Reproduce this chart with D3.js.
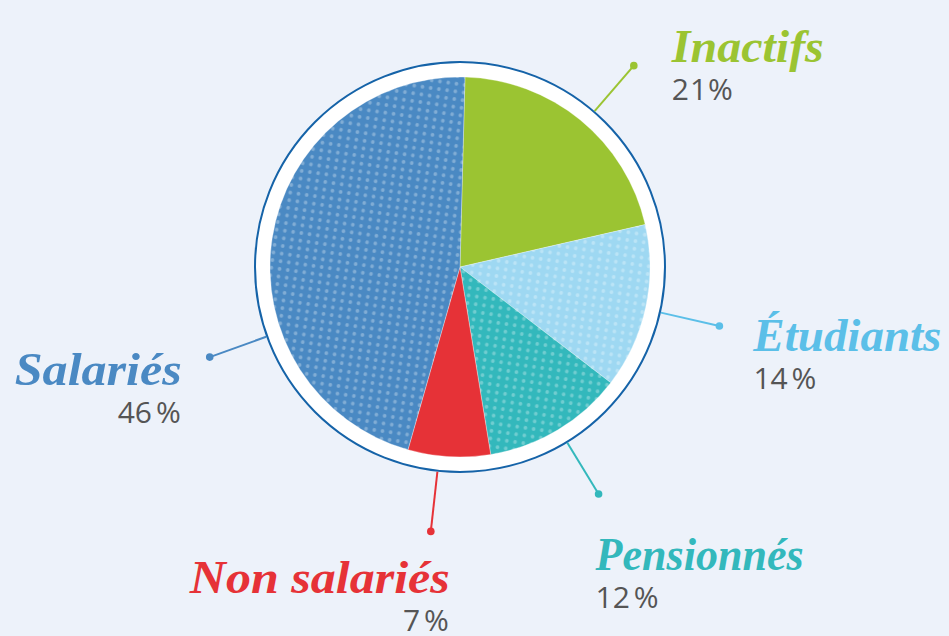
<!DOCTYPE html>
<html>
<head>
<meta charset="utf-8">
<script src="https://cdn.jsdelivr.net/npm/d3@7"></script>
<style>
  body { margin: 0; background: #edf2fa; }
  svg { display: block; }
</style>
</head>
<body>
<div id="pie"></div>
<script>
// data
var categories = ["Inactifs", "Étudiants", "Pensionnés", "Non salariés", "Salariés"];
var values = [21, 14, 12, 7, 46];
var valueLabels = ["21%", "14\u202F%", "12\u202F%", "7\u202F%", "46\u202F%"];

// styling
var colors = ["#9bc432", "#9ed8f2", "#33b8bc", "#e63237", "#4a89c3"];
var lineColors = ["#9bc432", "#5bbfe8", "#33b8bc", "#e63237", "#4a89c3"];
var dotted = [false, true, true, false, true];
var labelWidths = [152, 188, 208, 260, 167];

// leader angle shift (deg) from the slice middle, and label offset from the leader dot
var leaderShift = [1.5, 0.5, -0.5, 3, -28.5];
var labelOffset = [[38, -4, "start"], [34, 25, "start"], [-3, 76, "start"], [19, 62, "end"], [-28, 28, "end"]];

var width = 949, height = 636;
var cx = 460, cy = 267;
var radius = 190, ringRadius = 205, dotRadius = 266;

var svg = d3.select("#pie")
  .append("svg")
  .attr("width", width)
  .attr("height", height);

// dotted fill patterns
var defs = svg.append("defs");
colors.forEach(function(c, i) {
  if (!dotted[i]) return;
  var p = defs.append("pattern")
    .attr("id", "dots" + i)
    .attr("patternUnits", "userSpaceOnUse")
    .attr("patternTransform", "rotate(8)")
    .attr("width", 8.3)
    .attr("height", 7.7);
  p.append("rect").attr("width", 8.3).attr("height", 7.7).attr("fill", c);
  p.append("circle").attr("cx", 4.15).attr("cy", 3.85).attr("r", 1.9)
    .attr("fill", "#ffffff").attr("fill-opacity", 0.3);
});

var g = svg.append("g")
  .attr("transform", "translate(" + cx + "," + cy + ")");

// white ring with blue outline
g.append("circle")
  .attr("r", ringRadius)
  .attr("fill", "#ffffff")
  .attr("stroke", "#1563a8")
  .attr("stroke-width", 2);

var offset = 1.5 * Math.PI / 180;
var pie = d3.pie()
  .sort(null)
  .startAngle(offset)
  .endAngle(2 * Math.PI + offset);
var arcs = pie(values);

var arc = d3.arc().innerRadius(0).outerRadius(radius);

g.selectAll("path.slice")
  .data(arcs)
  .enter()
  .append("path")
  .attr("class", "slice")
  .attr("d", arc)
  .attr("fill", function(d, i) { return dotted[i] ? "url(#dots" + i + ")" : colors[i]; })
  .attr("stroke", "#ffffff")
  .attr("stroke-width", 0.6)
  .attr("stroke-opacity", 0.5);

// leader lines and labels
function leaderAngle(d, i) {
  return (d.startAngle + d.endAngle) / 2 + leaderShift[i] * Math.PI / 180;
}
function polar(a, r) {
  return [Math.sin(a) * r, -Math.cos(a) * r];
}

arcs.forEach(function(d, i) {
  var a = leaderAngle(d, i);
  var p0 = polar(a, ringRadius + 1);
  var p1 = polar(a, dotRadius);
  g.append("line")
    .attr("x1", p0[0]).attr("y1", p0[1])
    .attr("x2", p1[0]).attr("y2", p1[1])
    .attr("stroke", lineColors[i])
    .attr("stroke-width", 2);
  g.append("circle")
    .attr("cx", p1[0]).attr("cy", p1[1])
    .attr("r", 3.8)
    .attr("fill", lineColors[i]);

  var lx = p1[0] + labelOffset[i][0];
  var ly = p1[1] + labelOffset[i][1];
  g.append("text")
    .attr("x", lx).attr("y", ly)
    .attr("text-anchor", labelOffset[i][2])
    .attr("font-family", "'Liberation Serif', serif")
    .attr("font-style", "italic")
    .attr("font-weight", "bold")
    .attr("font-size", 46)
    .attr("textLength", labelWidths[i])
    .attr("lengthAdjust", "spacingAndGlyphs")
    .attr("fill", lineColors[i])
    .text(categories[i]);
  g.append("text")
    .attr("x", lx + (labelOffset[i][2] === "end" ? -1 : 0))
    .attr("y", ly + 38)
    .attr("text-anchor", labelOffset[i][2])
    .attr("font-family", "'Open Sans', sans-serif")
    .attr("font-size", 30)
    .attr("letter-spacing", 1)
    .attr("fill", "#555555")
    .text(valueLabels[i]);
});
</script>
</body>
</html>
